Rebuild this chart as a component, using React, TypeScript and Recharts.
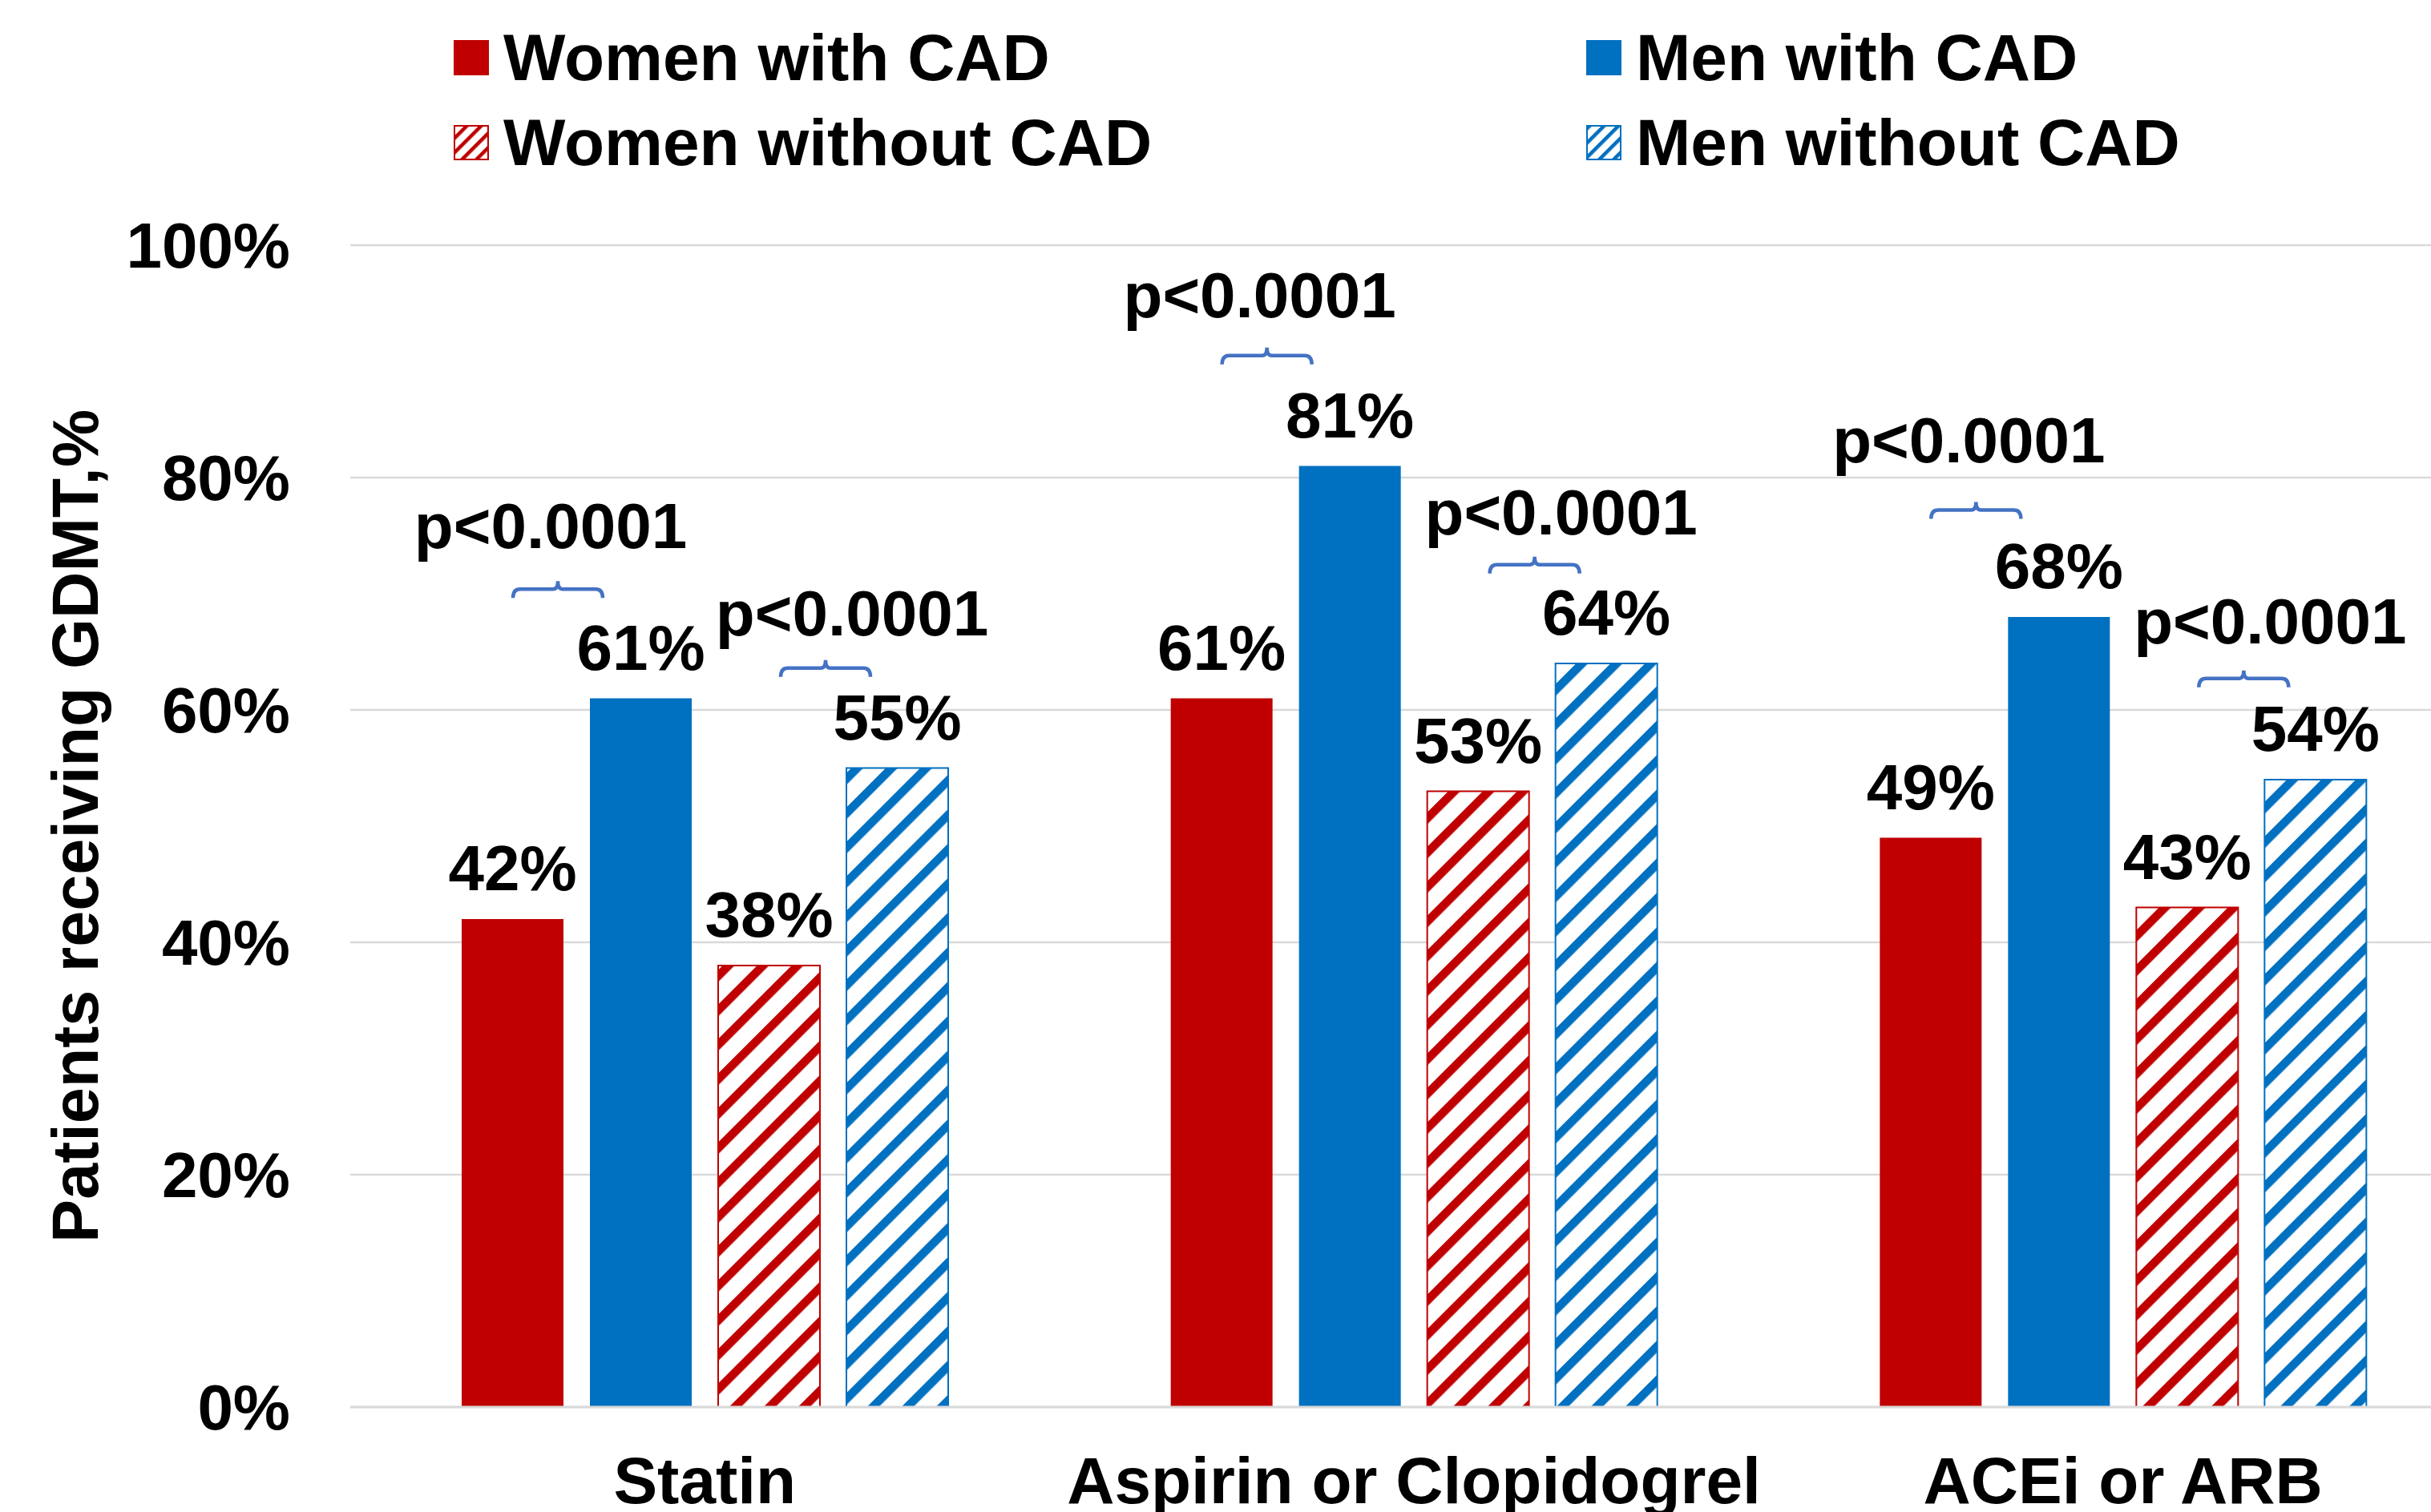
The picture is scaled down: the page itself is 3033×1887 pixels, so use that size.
import React from 'react';
import { BarChart, Bar, XAxis, YAxis, CartesianGrid, Legend, LabelList, Label } from 'recharts';

const categories = ['Statin', 'Aspirin or Clopidogrel', 'ACEi or ARB'];
const womenWithCad = [42, 61, 49];
const menWithCad = [61, 81, 68];
const womenWithoutCad = [38, 53, 43];
const menWithoutCad = [55, 64, 54];
const yTicks = [0, 20, 40, 60, 80, 100];

// p-value brackets, levels read in % of the y axis
const pWithCad = ['p<0.0001', 'p<0.0001', 'p<0.0001'];
const pWithoutCad = ['p<0.0001', 'p<0.0001', 'p<0.0001'];
const bracketWithLevel = [70.4, 90.5, 77.2];
const textWithLevel = [73.9, 93.8, 81.3];
const bracketWithoutLevel = [63.6, 72.5, 62.7];
const textWithoutLevel = [66.4, 75.1, 65.7];

const RED = '#C00000';
const BLUE = '#0070C0';
const FONT = '"Liberation Sans", Arial, sans-serif';

const series = [
  { key: 'wWith', name: 'Women with CAD', color: RED, hatch: null },
  { key: 'mWith', name: 'Men with CAD', color: BLUE, hatch: null },
  { key: 'wWithout', name: 'Women without CAD', color: RED, hatch: 'red' },
  { key: 'mWithout', name: 'Men without CAD', color: BLUE, hatch: 'blue' },
];

const data = categories.map((name, i) => ({
  name,
  wWith: womenWithCad[i],
  mWith: menWithCad[i],
  wWithout: womenWithoutCad[i],
  mWithout: menWithoutCad[i],
}));

const hatchPattern = (id: string, color: string, period: number, thick: number) => (
  <pattern
    id={id}
    key={id}
    patternUnits="userSpaceOnUse"
    width={period}
    height={period}
    patternTransform="rotate(-45)"
  >
    <rect width={period} height={period} fill="#fff" />
    <rect width={period} height={thick} fill={color} />
  </pattern>
);

const bracketPath = (cx: number, by: number) => {
  const w = 56;
  return `M${cx - w},${by + 11} Q${cx - w},${by} ${cx - w + 9},${by} L${cx - 6},${by} Q${cx},${by} ${cx},${by - 10} Q${cx},${by} ${cx + 6},${by} L${cx + w - 9},${by} Q${cx + w},${by} ${cx + w},${by + 11}`;
};

const makeAnnotation =
  (values: number[], bracketLevels: number[], textLevels: number[], texts: string[], bracketDx: number, textDx: number) =>
  (props: any) => {
    const vb = props.viewBox && props.viewBox.width != null ? props.viewBox : props;
    const { x, y, height } = vb;
    const index = props.index;
    if (index == null || height == null) return null;
    const k = height / values[index];
    const base = y + height;
    const by = base - bracketLevels[index] * k;
    const ty = base - textLevels[index] * k;
    return (
      <g>
        <path d={bracketPath(x + bracketDx, by)} fill="none" stroke="#4472C4" strokeWidth={4.5} />
        <text x={x + textDx} y={ty} textAnchor="middle" fontSize={80} fontWeight="bold" fontFamily={FONT} fill="#000">
          {texts[index]}
        </text>
      </g>
    );
  };

const annotationWith = makeAnnotation(menWithCad, bracketWithLevel, textWithLevel, pWithCad, -40, -49);
const annotationWithout = makeAnnotation(menWithoutCad, bracketWithoutLevel, textWithoutLevel, pWithoutCad, -26, 7);

const renderLegend = () => (
  <svg width={3033} height={240}>
    <defs>
      {hatchPattern('leg-red', RED, 12.7, 4.5)}
      {hatchPattern('leg-blue', BLUE, 12.7, 4.5)}
    </defs>
    {series.map((s, i) => {
      const col = i % 2;
      const row = Math.floor(i / 2);
      const sx = col === 0 ? 567 : 1980;
      const cy = 72 + row * 106;
      return (
        <g key={s.key}>
          <rect
            x={sx}
            y={cy - 21}
            width={42}
            height={42}
            fill={s.hatch ? `url(#leg-${s.hatch})` : s.color}
            stroke={s.color}
            strokeWidth={2}
          />
          <text x={sx + 61} y={cy + 28} fontSize={82} fontWeight="bold" fontFamily={FONT} fill="#000">
            {s.name}
          </text>
        </g>
      );
    })}
  </svg>
);

const YTitle = (props: any) => {
  const vb = props.viewBox || {};
  const cy = (vb.y || 306) + (vb.height || 1450) / 2;
  return (
    <text
      x={122}
      y={cy}
      transform={`rotate(-90 122 ${cy})`}
      textAnchor="middle"
      fontSize={81}
      fontWeight="bold"
      fontFamily={FONT}
      fill="#000"
    >
      Patients receiving GDMT,%
    </text>
  );
};

const tickStyle = { fontSize: 80, fontWeight: 'bold', fill: '#000', fontFamily: FONT };

export default function App() {
  return (
    <div style={{ position: 'absolute', top: 0, left: 0, width: 3033, height: 1887, overflow: 'hidden', background: '#fff' }}>
      <BarChart
        width={3100}
        height={1887}
        data={data}
        margin={{ top: 306, right: 9, left: 0, bottom: 0 }}
        barGap={33}
      >
        <defs>
          {hatchPattern('hatch-red', RED, 30.4, 10.5)}
          {hatchPattern('hatch-blue', BLUE, 30.4, 10.5)}
        </defs>
        <CartesianGrid vertical={false} stroke="#D9D9D9" strokeWidth={2.5} />
        <XAxis
          dataKey="name"
          height={131}
          axisLine={{ stroke: '#D9D9D9', strokeWidth: 3 }}
          tickLine={false}
          tickSize={0}
          tickMargin={62}
          interval={0}
          tick={{ ...tickStyle, fontSize: 82 }}
        />
        <YAxis
          width={437}
          domain={[0, 100]}
          ticks={yTicks}
          interval={0}
          tickFormatter={(v: number) => `${v}%`}
          axisLine={false}
          tickLine={false}
          tickSize={0}
          tickMargin={75}
          tick={tickStyle}
        >
          <Label content={YTitle} />
        </YAxis>
        <Legend
          verticalAlign="middle"
          align="center"
          layout="horizontal"
          wrapperStyle={{ top: 0, left: 0, width: 3033, height: 240 }}
          content={renderLegend}
        />
        {series.map((s) => (
          <Bar
            key={s.key}
            dataKey={s.key}
            name={s.name}
            fill={s.hatch ? `url(#hatch-${s.hatch})` : s.color}
            stroke={s.hatch ? s.color : 'none'}
            strokeWidth={s.hatch ? 2 : 0}
            barSize={127}
            isAnimationActive={false}
          >
            <LabelList
              dataKey={s.key}
              position="top"
              offset={36}
              formatter={(v: number) => `${v}%`}
              fontSize={80}
              fontWeight="bold"
              fontFamily={FONT}
              fill="#000"
            />
            {s.key === 'mWith' && <LabelList dataKey={s.key} content={annotationWith} />}
            {s.key === 'mWithout' && <LabelList dataKey={s.key} content={annotationWithout} />}
          </Bar>
        ))}
      </BarChart>
    </div>
  );
}
